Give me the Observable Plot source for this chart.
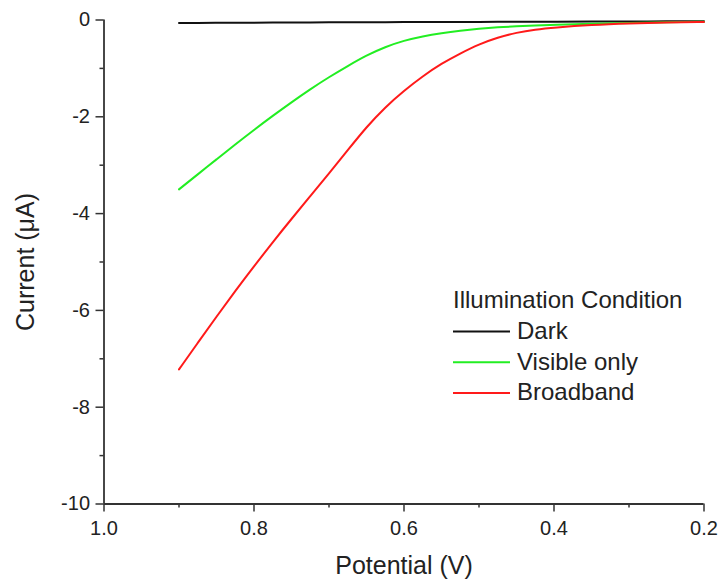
<!DOCTYPE html>
<html><head><meta charset="utf-8">
<script src="https://cdn.jsdelivr.net/npm/d3@7"></script>
<script src="https://cdn.jsdelivr.net/npm/@observablehq/plot@0.6"></script>
<style>
body{margin:0;background:#fff;}
#chart{position:relative;width:724px;height:579px;}
</style>
</head><body><div id="chart"></div>
<script>
const potential = [0.9,0.875,0.85,0.825,0.8,0.775,0.75,0.725,0.7,0.675,0.65,0.625,0.6,0.575,0.55,0.525,0.5,0.475,0.45,0.425,0.4,0.35,0.3,0.25,0.2];
const dark      = [-0.06,-0.06,-0.058,-0.056,-0.055,-0.054,-0.052,-0.05,-0.049,-0.048,-0.046,-0.045,-0.044,-0.042,-0.041,-0.04,-0.039,-0.038,-0.037,-0.036,-0.035,-0.032,-0.03,-0.027,-0.025];
const visible   = [-3.50,-3.19,-2.88,-2.57,-2.27,-1.98,-1.70,-1.43,-1.18,-0.95,-0.73,-0.555,-0.425,-0.335,-0.27,-0.22,-0.18,-0.15,-0.13,-0.112,-0.10,-0.08,-0.06,-0.045,-0.035];
const broadband = [-7.22,-6.67,-6.13,-5.60,-5.09,-4.59,-4.11,-3.64,-3.17,-2.69,-2.21,-1.80,-1.46,-1.16,-0.90,-0.69,-0.50,-0.36,-0.26,-0.195,-0.155,-0.10,-0.07,-0.05,-0.04];
const seriesNames  = ["Dark","Visible only","Broadband"];
const seriesColors = ["#111111","#22ee22","#ff1a1a"];
const xTicks = [1.0,0.8,0.6,0.4,0.2];
const xMinor = [0.9,0.7,0.5,0.3];
const yTicks = [0,-2,-4,-6,-8,-10];
const yMinor = [-1,-3,-5,-7,-9];
const legendTitle = "Illumination Condition";

const seriesValues = [dark, visible, broadband];
const rows = seriesNames.flatMap((name, s) => potential.map((p, i) => ({potential: p, current: seriesValues[s][i], name})));

const axisColor = "#333";
const font = "'Liberation Sans', Arial, Helvetica, sans-serif";

const plot = Plot.plot({
  width: 724, height: 579,
  marginLeft: 103.5, marginRight: 20.5, marginTop: 19.5, marginBottom: 75.5,
  style: {fontFamily: font, fontSize: "20px", color: "#222", background: "#fff", overflow: "visible"},
  x: {domain: [1.0, 0.2]},
  y: {domain: [-10, 0]},
  color: {domain: seriesNames, range: seriesColors},
  marks: [
    Plot.axisX(xTicks, {tickSize: 8, tickPadding: 9, tickFormat: d3.format(".1f"), stroke: axisColor, strokeWidth: 1.5, fontSize: 20, label: null}),
    Plot.axisX(xMinor, {tickSize: 4, tickFormat: () => "", stroke: axisColor, strokeWidth: 1.5, label: null}),
    Plot.axisY(yTicks, {tickSize: 8, tickPadding: 6, tickFormat: d => String(d), stroke: axisColor, strokeWidth: 1.5, fontSize: 20, label: null}),
    Plot.axisY(yMinor, {tickSize: 4, tickFormat: () => "", stroke: axisColor, strokeWidth: 1.5, label: null}),
    Plot.ruleX([1.0], {stroke: axisColor, strokeWidth: 1.8}),
    Plot.ruleY([-10], {stroke: axisColor, strokeWidth: 1.8}),
    Plot.line(rows, {x: "potential", y: "current", z: "name", stroke: "name", strokeWidth: 2, curve: "basis"}),
    Plot.text(["Potential (V)"], {text: d => d, frameAnchor: "bottom", lineAnchor: "middle", textAnchor: "middle", dy: 61.5, fontSize: 25, fill: "#222"}),
    Plot.text(["Current (μA)"], {text: d => d, frameAnchor: "left", lineAnchor: "middle", textAnchor: "middle", dx: -78.5, rotate: -90, fontSize: 25, fill: "#222"})
  ]
});

document.getElementById("chart").appendChild(plot);

// legend
const svg = d3.select(plot);
const lg = svg.append("g").attr("font-family", font).attr("font-size", 24).attr("fill", "#222").attr("text-anchor", "start");
lg.append("text").attr("x", 453).attr("y", 308).text(legendTitle);
seriesNames.forEach((name, i) => {
  const y = 339 + i * 30.7;
  lg.append("line").attr("x1", 453).attr("x2", 510).attr("y1", y - 7.5).attr("y2", y - 7.5)
    .attr("stroke", seriesColors[i]).attr("stroke-width", 2);
  lg.append("text").attr("x", 517).attr("y", y).text(name);
});
</script>
</body></html>
